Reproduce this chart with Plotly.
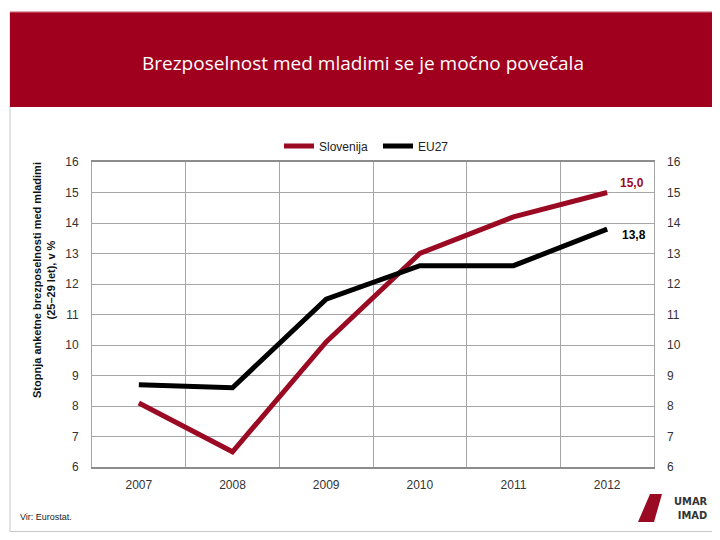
import plotly.graph_objects as go

years = ["2007", "2008", "2009", "2010", "2011", "2012"]
slovenija = [8.1, 6.5, 10.1, 13.0, 14.2, 15.0]
eu27 = [8.7, 8.6, 11.5, 12.6, 12.6, 13.8]
y_ticks = [6, 7, 8, 9, 10, 11, 12, 13, 14, 15, 16]

RED = "#9B0A23"
BAND = "#A0001E"
GRID = "#A6A6A6"

OFF = 8  # page body margin
W, H = 720 - OFF, 540 - OFF
L, R, T, B = 84, 66, 154, 73
PW, PH = W - L - R, H - T - B


def px(x):  # reference-picture pixel -> paper
    return (x - OFF - L) / PW


def py(y):
    return (H - B - (y - OFF)) / PH


def fmt(v):
    return "<b>" + f"{v:.1f}".replace(".", ",") + "</b>"


lab_font = "Liberation Sans, Arial, sans-serif"

fig = go.Figure()
fig.add_trace(go.Scatter(x=years, y=slovenija, name="Slovenija", mode="lines",
                         line=dict(color=RED, width=5)))
fig.add_trace(go.Scatter(x=years, y=eu27, name="EU27", mode="lines",
                         line=dict(color="#000000", width=5)))
fig.add_trace(go.Scatter(x=years, y=eu27, yaxis="y2", mode="lines",
                         line=dict(width=0), showlegend=False, hoverinfo="skip"))

axis_font = dict(family=lab_font, size=12, color="#333333")

fig.update_layout(
    width=W, height=H,
    margin=dict(l=L, r=R, t=T, b=B, autoexpand=False),
    paper_bgcolor="white", plot_bgcolor="white",
    showlegend=True,
    legend=dict(orientation="h", x=px(279), xanchor="left", y=py(146), yanchor="middle",
                font=dict(family=lab_font, size=12, color="#222222"),
                itemwidth=30, entrywidth=54, entrywidthmode="pixels",
                bgcolor="rgba(0,0,0,0)"),
    xaxis=dict(type="category", range=[-0.5, len(years) - 0.5], tickson="boundaries",
               ticks="", showgrid=True, tickangle=0,
               gridcolor=GRID, gridwidth=1, showline=True, linecolor="#8C8C8C",
               linewidth=2, mirror=True, tickfont=axis_font, ticklabelstandoff=6),
    yaxis=dict(range=[6, 16], tickvals=y_ticks, showgrid=True, gridcolor=GRID,
               gridwidth=1, showline=True, linecolor=GRID, linewidth=1, mirror=True,
               tickfont=axis_font, ticks="", ticklabelstandoff=10, zeroline=False),
    yaxis2=dict(range=[6, 16], tickvals=y_ticks, overlaying="y", side="right",
                showgrid=False, showline=False, tickfont=axis_font, ticks="",
                ticklabelstandoff=12, zeroline=False),
)

# value labels at the last year (category index)
last = len(years) - 1
fig.add_annotation(text=fmt(slovenija[-1]), x=last, y=slovenija[-1], xref="x", yref="y",
                   showarrow=False, xanchor="left", yanchor="middle", xshift=11, yshift=10,
                   font=dict(family=lab_font, size=12, color=RED))
fig.add_annotation(text=fmt(eu27[-1]), x=last, y=eu27[-1], xref="x", yref="y",
                   showarrow=False, xanchor="left", yanchor="middle", xshift=13, yshift=-6,
                   font=dict(family=lab_font, size=12, color="#000000"))

# card + title band
fig.add_shape(type="rect", xref="paper", yref="paper", x0=px(10), x1=px(712.5),
              y0=py(531.5), y1=py(12), line=dict(color="#C8C8C8", width=1),
              fillcolor="rgba(0,0,0,0)", layer="below")
fig.add_shape(type="rect", xref="paper", yref="paper", x0=px(10), x1=px(713),
              y0=py(107), y1=py(12), line=dict(width=0), fillcolor=BAND, layer="below")
fig.add_shape(type="line", xref="paper", yref="paper", x0=px(10), x1=px(713),
              y0=py(12), y1=py(12), line=dict(color="#E07080", width=1))

fig.add_annotation(text="Brezposelnost med mladimi se je močno povečala",
                   xref="paper", yref="paper", x=px(363), y=py(63), showarrow=False,
                   xanchor="center", yanchor="middle",
                   font=dict(family="Open Sans, sans-serif", size=19, color="white"))

fig.add_annotation(text="<b>Stopnja anketne brezposelnosti med mladimi<br>(25–29 let), v %</b>",
                   xref="paper", yref="paper", x=px(44), y=py(280), textangle=-90,
                   xanchor="center", yanchor="middle", showarrow=False,
                   font=dict(family="Liberation Sans Narrow, Arial Narrow, Liberation Sans, sans-serif",
                             size=11, color="#111111"))

fig.add_annotation(text="Vir: Eurostat.", xref="paper", yref="paper", x=px(18), y=py(517),
                   xanchor="left", yanchor="middle", showarrow=False,
                   font=dict(family="Liberation Sans Narrow, Liberation Sans, sans-serif",
                             size=9, color="#222222"))

# logo
fig.add_shape(type="path", xref="paper", yref="paper",
              path="M %f %f L %f %f L %f %f L %f %f Z" % (px(650), py(494), px(662), py(494),
                                                          px(654), py(522), px(638), py(522)),
              fillcolor=RED, line=dict(width=0))
fig.add_annotation(text="<b>UMAR<br>IMAD</b>", xref="paper", yref="paper", x=px(710), y=py(508),
                   xanchor="right", yanchor="middle", showarrow=False, align="right",
                   font=dict(family="DejaVu Sans Condensed, Liberation Sans Narrow, Liberation Sans, sans-serif",
                             size=11, color="#333333"))

fig.write_html("out.html")
